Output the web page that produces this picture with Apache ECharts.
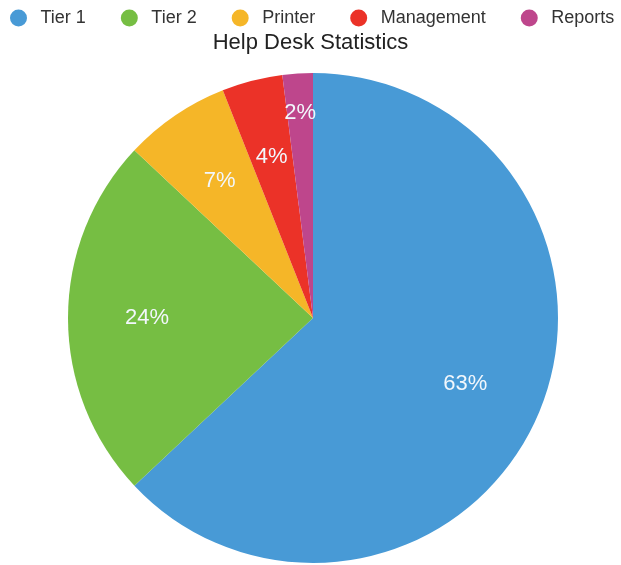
<!DOCTYPE html>
<html>
<head>
<meta charset="utf-8">
<script src="https://cdn.jsdelivr.net/npm/echarts@6/dist/echarts.min.js"></script>
<style>
  html, body { margin: 0; padding: 0; background: #fff; }
  #chart { width: 621px; height: 565px; }
</style>
</head>
<body>
<div id="chart"></div>
<script>
// Help desk ticket share by queue
const categories = ['Tier 1', 'Tier 2', 'Printer', 'Management', 'Reports'];
const shares = [63, 24, 7, 4, 2];
const colors = ['#489AD6', '#76BE43', '#F5B628', '#EB3228', '#BE468C'];

const FONT = '"Liberation Sans", Arial, Helvetica, sans-serif';
const CENTER = [313, 318];
const R = 245;

const slices = categories.map((name, i) => ({ name, value: shares[i], itemStyle: { color: colors[i] } }));

// transparent ring used only to place the percentage labels further out
function labelRing(radius, showIdx) {
  return {
    type: 'pie',
    center: CENTER,
    radius: radius,
    startAngle: 90,
    silent: true,
    legendHoverLink: false,
    animation: false,
    itemStyle: { color: 'rgba(0,0,0,0)' },
    label: {
      show: true,
      position: 'inside',
      formatter: p => p.value + '%',
      color: '#f2f7fc',
      fontFamily: FONT,
      fontSize: 22
    },
    labelLine: { show: false },
    data: categories.map((name, i) => ({
      name,
      value: shares[i],
      itemStyle: { color: 'rgba(0,0,0,0)' },
      label: { show: showIdx.includes(i) }
    }))
  };
}

const chart = echarts.init(document.getElementById('chart'), null, { renderer: 'canvas' });
chart.setOption({
  backgroundColor: '#ffffff',
  animation: false,
  title: {
    text: 'Help Desk Statistics',
    left: 'center',
    top: 27,
    textStyle: { fontFamily: FONT, fontSize: 22, fontWeight: 'normal', color: '#222' }
  },
  legend: {
    top: 4,
    left: 5,
    icon: 'circle',
    itemWidth: 34,
    itemHeight: 17,
    itemGap: 35,
    textStyle: { fontFamily: FONT, fontSize: 18, color: '#333', padding: [0, 0, 0, 0] },
    data: categories.map((name, i) => ({ name, itemStyle: { color: colors[i] } }))
  },
  series: [
    {
      type: 'pie',
      center: CENTER,
      radius: R,
      startAngle: 90,
      clockwise: true,
      label: { show: false },
      labelLine: { show: false },
      itemStyle: { borderWidth: 0 },
      emphasis: { scale: false },
      data: slices
    },
    labelRing([126, 200], [0, 1, 2, 3]),
    labelRing([182, 222], [4])
  ]
});
</script>
</body>
</html>
